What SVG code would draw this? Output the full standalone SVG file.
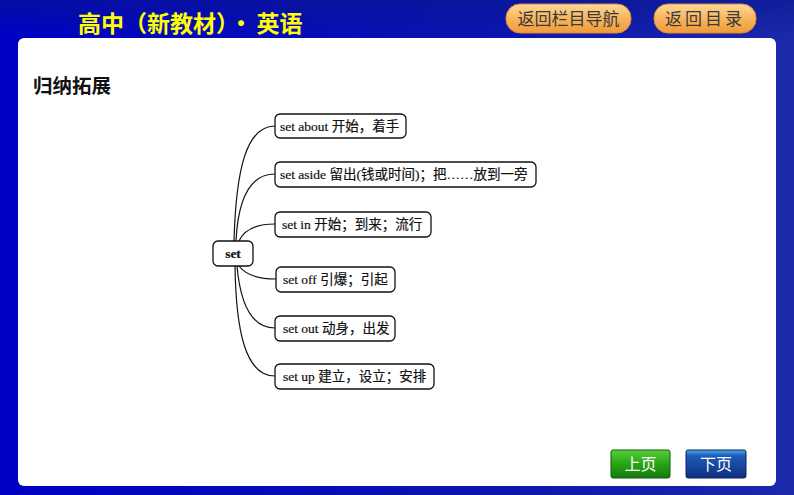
<svg xmlns="http://www.w3.org/2000/svg" width="794" height="495" viewBox="0 0 794 495">
<defs>
<linearGradient id="bg" x1="0" y1="0" x2="1" y2="0">
<stop offset="0" stop-color="#0000c4"/>
<stop offset="0.6" stop-color="#0a14b0"/>
<stop offset="1" stop-color="#1a2aa8"/>
</linearGradient>
<linearGradient id="top" x1="0" y1="0" x2="0" y2="1">
<stop offset="0" stop-color="#0a1690" stop-opacity="0.6"/>
<stop offset="1" stop-color="#0a1690" stop-opacity="0"/>
</linearGradient>
<linearGradient id="orange" x1="0" y1="0" x2="0" y2="1">
<stop offset="0" stop-color="#fcd89a"/>
<stop offset="0.5" stop-color="#f8b55e"/>
<stop offset="1" stop-color="#f09a38"/>
</linearGradient>
<linearGradient id="green" x1="0" y1="0" x2="0" y2="1">
<stop offset="0" stop-color="#5ad03a"/>
<stop offset="0.5" stop-color="#26a516"/>
<stop offset="1" stop-color="#137a0c"/>
</linearGradient>
<linearGradient id="blue" x1="0" y1="0" x2="0" y2="1">
<stop offset="0" stop-color="#48b0f0"/>
<stop offset="0.2" stop-color="#1d5cb8"/>
<stop offset="1" stop-color="#0f2f80"/>
</linearGradient>
</defs>
<style>
.node rect{fill:#fff;stroke:#111;stroke-width:1.3}
.node text{font-family:"Liberation Serif","Noto Sans CJK SC",serif;font-size:13.5px;fill:#111;stroke:#111;stroke-width:0.2}
.conn path{fill:none;stroke:#111;stroke-width:1.2}
.hbtn text{font-family:"Noto Sans CJK SC",sans-serif;font-size:17px;fill:#3a3a3a}
.bbtn text{font-family:"Noto Sans CJK SC",sans-serif;font-size:16px;fill:#fff}
</style>
<rect x="0" y="0" width="794" height="495" fill="url(#bg)"/>
<rect x="0" y="0" width="794" height="36" fill="url(#top)"/>
<text x="78" y="32" font-family="Noto Sans CJK SC,sans-serif" font-size="23" font-weight="bold" fill="#ffff00">高中（新教材）<tspan dx="2">·</tspan><tspan dx="4">英语</tspan></text>
<g id="btn-nav" class="hbtn">
<rect x="506" y="4" width="125" height="29" rx="14" fill="url(#orange)" stroke="#e08a30" stroke-width="1"/>
<text x="568.5" y="25" text-anchor="middle">返回栏目导航</text>
</g>
<g id="btn-toc" class="hbtn">
<rect x="654" y="4" width="102" height="29" rx="14" fill="url(#orange)" stroke="#e08a30" stroke-width="1"/>
<text x="705" y="25" text-anchor="middle" letter-spacing="3">返回目录</text>
</g>
<rect x="18" y="38" width="758" height="448" rx="6" fill="#fff"/>
<text x="33" y="93" font-family="Noto Sans CJK SC,sans-serif" font-size="19.5" font-weight="bold" fill="#111">归纳拓展</text>
<g id="connectors" class="conn">
<path d="M234,241 C236,170 246,126 275,126"/>
<path d="M236,241 C238,200 250,174 275,174"/>
<path d="M239,241 C244,230 255,224 275,224"/>
<path d="M239,266 C245,274 256,279 276,279"/>
<path d="M237,266 C240,300 250,328 275,328"/>
<path d="M235,266 C236,330 245,376 275,376"/>
</g>
<g id="n-set" class="node">
<rect x="213" y="241" width="40" height="25" rx="5"/>
<text x="233" y="258" text-anchor="middle" font-size="11" font-weight="bold">set</text>
</g>
<g id="n-about" class="node">
<rect x="275" y="114" width="131" height="24" rx="5"/>
<text x="280" y="131">set about 开始，着手</text>
</g>
<g id="n-aside" class="node">
<rect x="275" y="162" width="261" height="25" rx="5"/>
<text x="280" y="179">set aside 留出(钱或时间)；把……放到一旁</text>
</g>
<g id="n-in" class="node">
<rect x="275" y="212" width="156" height="25" rx="5"/>
<text x="282" y="229">set in 开始；到来；流行</text>
</g>
<g id="n-off" class="node">
<rect x="276" y="267" width="119" height="25" rx="5"/>
<text x="283" y="284">set off 引爆；引起</text>
</g>
<g id="n-out" class="node">
<rect x="275" y="316" width="120" height="25" rx="5"/>
<text x="283" y="333">set out 动身，出发</text>
</g>
<g id="n-up" class="node">
<rect x="275" y="364" width="159" height="25" rx="5"/>
<text x="283" y="381">set up 建立，设立；安排</text>
</g>
<g id="btn-prev" class="bbtn">
<rect x="611" y="450" width="59" height="28" rx="2" fill="url(#green)" stroke="#0d5a08"/>
<text x="640.5" y="470" text-anchor="middle">上页</text>
</g>
<g id="btn-next" class="bbtn">
<rect x="686" y="450" width="60" height="28" rx="2" fill="url(#blue)" stroke="#0a2060"/>
<text x="716" y="470" text-anchor="middle">下页</text>
</g>
</svg>
